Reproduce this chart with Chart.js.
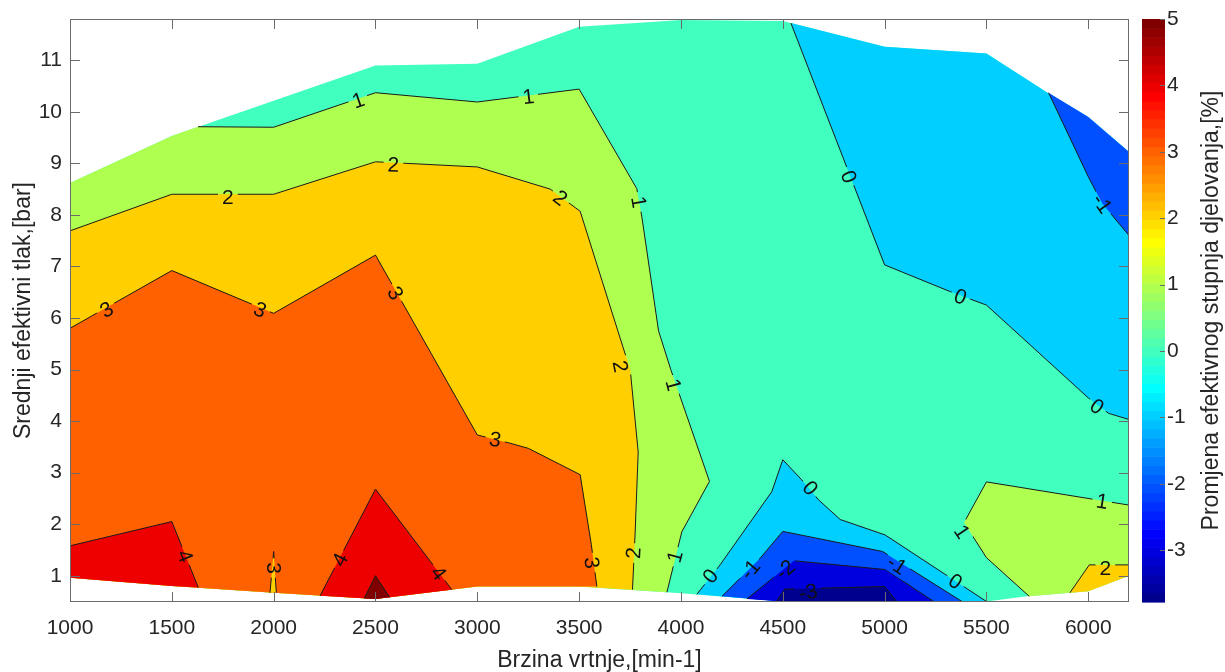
<!DOCTYPE html>
<html>
<head>
<meta charset="utf-8">
<script src="https://cdn.jsdelivr.net/npm/chart.js@4.4.1/dist/chart.umd.min.js"></script>
<style>
  html, body { margin: 0; padding: 0; background: #fff; }
  canvas { display: block; }
</style>
</head>
<body>
<canvas id="my-chart" width="1225" height="672"></canvas>
<script>
'use strict';

// Axis ranges
let speedMin = 1000;
let speedMax = 6200;
let loadMin = 0.49;
let loadMax = 11.8;
let colorMin = -3.78;
let colorMax = 5;

// Tick labels
let speedTicks = [1000, 1500, 2000, 2500, 3000, 3500, 4000, 4500, 5000, 5500, 6000];
let loadTicks = [1, 2, 3, 4, 5, 6, 7, 8, 9, 10, 11];
let colorTicks = [-3, -2, -1, 0, 1, 2, 3, 4, 5];

// Edge of the measured map [speed, bmep], top goes left to right
let topEdge = [[1000, 8.62], [1500, 9.53], [2500, 10.9], [3000, 10.93], [3500, 11.65], [4000, 11.78],
  [4500, 11.76], [5000, 11.26], [5500, 11.13], [5800, 10.37], [6000, 9.9], [6200, 9.22]];
// bottom goes right to left
let bottomEdge = [[6200, 1.0], [6000, 0.7], [5700, 0.6], [5500, 0.5], [4500, 0.5], [4000, 0.66],
  [3500, 0.79], [3000, 0.79], [2500, 0.55], [2000, 0.67], [1500, 0.8], [1000, 0.96]];

// Contour lines [speed, bmep]
let level1Left = [[1629, 9.71], [2000, 9.7], [2500, 10.37], [3000, 10.19], [3500, 10.44], [3783, 8.51],
  [3808, 7.96], [3890, 5.75], [3950, 5.0], [4140, 2.83], [4004, 1.85], [3931, 0.68]];
let level1Right = [[6200, 2.37], [5500, 2.82], [5390, 2.03], [5500, 1.35], [5710, 0.6]];
let level2Left = [[1000, 7.69], [1500, 8.4], [2000, 8.4], [2500, 9.03], [3000, 8.93], [3358, 8.5],
  [3505, 8.07], [3690, 5.75], [3751, 4.99], [3790, 3.4], [3775, 1.83], [3762, 0.73]];
let level2Right = [[5910, 0.67], [6005, 1.21], [6200, 1.21]];
let level3Main = [[1000, 5.8], [1500, 6.92], [2000, 6.09], [2500, 7.22], [3000, 3.73], [3161, 3.57],
  [3251, 3.47], [3505, 2.96], [3560, 1.6], [3587, 0.79]];
let level3Spike = [[1982, 0.67], [2000, 1.47], [2013, 0.67]];
let level4Left = [[1000, 1.58], [1500, 2.05], [1630, 0.77]];
let level4Mid = [[2228, 0.61], [2500, 2.68], [2875, 0.73]];
let level5 = [[2445, 0.56], [2500, 1.0], [2570, 0.58]];
let level0Top = [[4540, 11.72], [5000, 7.03], [5323, 6.51], [5500, 6.25], [6000, 4.45], [6100, 4.15], [6200, 4.03]];
let level0Bottom = [[4078, 0.64], [4192, 1.21], [4446, 2.63], [4500, 3.25], [4593, 2.86], [4676, 2.47],
  [4782, 2.09], [5003, 1.79], [5500, 0.5]];
let levelM1Top = [[5805, 10.37], [6000, 8.74], [6069, 8.22], [6200, 7.6]];
let levelM1Bottom = [[4201, 0.6], [4389, 1.34], [4500, 1.86], [4990, 1.47], [5380, 0.5]];
let levelM2 = [[4324, 0.55], [4555, 1.29], [5004, 1.12], [5241, 0.5]];
let levelM3 = [[4470, 0.51], [4510, 0.74], [5000, 0.79], [5060, 0.5]];

// Contour labels [text, speed, bmep, angle in degrees]
let contourLabels = [
  ['1', 2416, 10.22, -19], ['1', 3251, 10.29, -7], ['2', 1775, 8.35, 0], ['2', 2588, 8.97, 2],
  ['2', 3407, 8.33, 38], ['1', 3792, 8.25, 80], ['3', 1180, 6.16, -30], ['3', 1933, 6.16, 23],
  ['3', 2597, 6.48, 60], ['3', 3088, 3.64, 10], ['2', 3702, 5.06, 79], ['1', 3963, 4.7, 75],
  ['3', 3562, 1.25, 83], ['2', 3767, 1.44, -87], ['1', 3971, 1.37, -75], ['0', 4144, 0.99, -51],
  ['-1', 4340, 1.12, -50], ['-2', 4512, 1.12, -40], ['-3', 4625, 0.68, -10], ['0', 4635, 2.7, 50],
  ['-1', 5060, 1.21, 33], ['0', 5347, 0.89, 33], ['1', 5380, 1.85, 56], ['1', 6068, 2.44, 9],
  ['2', 6084, 1.15, 0], ['0', 6043, 4.28, 35], ['0', 4823, 8.74, 69], ['0', 5372, 6.41, 21],
  ['-1', 6068, 8.22, 55], ['4', 1565, 1.38, 68], ['3', 2000, 1.15, 90], ['4', 2326, 1.31, -63],
  ['4', 2809, 1.05, 52]
];

// Styles
let textColor = '#262626';
let axisColor = '#6b6b6b';
let fontFamily = "'Liberation Sans', Arial, Helvetica, sans-serif";
let tickFont = { family: fontFamily, size: 21 };
let titleFont = { family: fontFamily, size: 23, lineHeight: 1 };
let labelFont = '21px ' + fontFamily;

// MATLAB jet(64) colour for index 1..64
function jetColor(i) {
  let u = function (k) {
    if (k < 1 || k > 47) return 0;
    if (k <= 16) return k / 16;
    if (k <= 31) return 1;
    return (48 - k) / 16;
  };
  let r = Math.round(u(i - 24) * 255);
  let g = Math.round(u(i - 8) * 255);
  let b = Math.round(u(i + 8) * 255);
  return `rgb(${r},${g},${b})`;
}

function colorForValue(v) {
  let idx = Math.floor((v - colorMin) / (colorMax - colorMin) * 64) + 1;
  idx = Math.min(64, Math.max(1, idx));
  return jetColor(idx);
}

function bottomBetween(x0, x1) {
  return bottomEdge.filter(p => p[0] > x0 && p[0] < x1);
}

function topBetween(x0, x1) {
  return topEdge.filter(p => p[0] > x0 && p[0] < x1).reverse();
}

// Filled bands, painted in this order
let bands = [
  { value: 0, points: topEdge.concat(bottomEdge) },
  { value: 1, points: topEdge.slice(0, 2).concat(level1Left, bottomBetween(0, 3931)) },
  { value: 1, points: level1Right.concat(bottomBetween(5710, 7000).reverse()) },
  { value: 2, points: level2Left.concat(bottomBetween(0, 3762)) },
  { value: 2, points: level2Right.concat(bottomBetween(5910, 7000)) },
  { value: 3, points: level3Main.concat(bottomBetween(0, 3587)) },
  { value: 2, points: level3Spike },
  { value: 4, points: level4Left.concat(bottomBetween(0, 1630)) },
  { value: 4, points: level4Mid.concat(bottomBetween(2228, 2875)) },
  { value: 5, points: level5.concat(bottomBetween(2445, 2570)) },
  { value: -1, points: level0Top.concat(topBetween(4540, 7000)) },
  { value: -2, points: levelM1Top.concat(topBetween(5805, 7000)) },
  { value: -1, points: level0Bottom.concat(bottomBetween(4078, 5500)) },
  { value: -2, points: levelM1Bottom.concat(bottomBetween(4201, 5380)) },
  { value: -3, points: levelM2.concat(bottomBetween(4324, 5241)) },
  { value: colorMin, points: levelM3.concat(bottomBetween(4470, 5060)) }
];

let contourLines = [level1Left, level1Right, level2Left, level2Right, level3Main, level3Spike,
  level4Left, level4Mid, level5, level0Top, level0Bottom, levelM1Top, levelM1Bottom, levelM2, levelM3];

function toXY(points) {
  return points.map(p => ({ x: p[0], y: p[1] }));
}

let datasets = [];
for (let i = 0; i < bands.length; i++) {
  datasets.push({
    data: toXY(bands[i].points),
    showLine: true,
    fill: 'shape',
    backgroundColor: colorForValue(bands[i].value),
    borderColor: 'rgba(0,0,0,0)',
    borderWidth: 0,
    pointRadius: 0,
    order: 100 - i
  });
}
for (let i = 0; i < contourLines.length; i++) {
  datasets.push({
    data: toXY(contourLines[i]),
    showLine: true,
    fill: false,
    borderColor: '#1a1a1a',
    borderWidth: 1,
    pointRadius: 0,
    isContour: true,
    order: 1
  });
}

// Plugin: label gaps, labels, inner ticks, box and colour bar
let contourPlugin = {
  id: 'contourExtras',
  beforeDatasetDraw(chart, args) {
    if (!chart.data.datasets[args.index].isContour) return;
    let c = chart.ctx;
    let area = chart.chartArea;
    c.save();
    c.font = labelFont;
    c.beginPath();
    c.rect(area.left, area.top, area.right - area.left, area.bottom - area.top);
    for (let i = 0; i < contourLabels.length; i++) {
      let lab = contourLabels[i];
      let px = chart.scales.x.getPixelForValue(lab[1]);
      let py = chart.scales.y.getPixelForValue(lab[2]);
      let w = c.measureText(lab[0]).width / 2 + 4;
      let h = 10;
      let a = lab[3] * Math.PI / 180;
      let corners = [[-w, -h], [w, -h], [w, h], [-w, h]];
      for (let k = 0; k < 4; k++) {
        let cx = px + corners[k][0] * Math.cos(a) - corners[k][1] * Math.sin(a);
        let cy = py + corners[k][0] * Math.sin(a) + corners[k][1] * Math.cos(a);
        if (k === 0) c.moveTo(cx, cy); else c.lineTo(cx, cy);
      }
      c.closePath();
    }
    c.clip('evenodd');
  },
  afterDatasetDraw(chart, args) {
    if (chart.data.datasets[args.index].isContour) chart.ctx.restore();
  },
  afterDatasetsDraw(chart) {
    let c = chart.ctx;
    c.save();
    c.font = labelFont;
    c.fillStyle = '#111';
    c.textAlign = 'center';
    c.textBaseline = 'middle';
    for (let i = 0; i < contourLabels.length; i++) {
      let lab = contourLabels[i];
      c.save();
      c.translate(chart.scales.x.getPixelForValue(lab[1]), chart.scales.y.getPixelForValue(lab[2]));
      c.rotate(lab[3] * Math.PI / 180);
      c.fillText(lab[0], 0, 1);
      c.restore();
    }
    c.restore();
  },
  afterDraw(chart) {
    let c = chart.ctx;
    let a = chart.chartArea;
    let xs = chart.scales.x;
    let ys = chart.scales.y;
    let cb = chart.scales.cb;
    c.save();
    c.strokeStyle = axisColor;
    c.lineWidth = 1;
    c.beginPath();
    for (let i = 0; i < speedTicks.length; i++) {
      let px = Math.round(xs.getPixelForValue(speedTicks[i])) + 0.5;
      c.moveTo(px, a.bottom); c.lineTo(px, a.bottom - 10);
      c.moveTo(px, a.top); c.lineTo(px, a.top + 10);
    }
    for (let i = 0; i < loadTicks.length; i++) {
      let py = Math.round(ys.getPixelForValue(loadTicks[i])) + 0.5;
      c.moveTo(a.left, py); c.lineTo(a.left + 10, py);
      c.moveTo(a.right, py); c.lineTo(a.right - 10, py);
    }
    c.stroke();
    c.strokeRect(a.left + 0.5, a.top + 0.5, a.right - a.left - 1, a.bottom - a.top - 1);

    // colour bar
    let barLeft = a.right + 13;
    let barWidth = 23;
    let step = (colorMax - colorMin) / 64;
    for (let k = 0; k < 64; k++) {
      let yTop = cb.getPixelForValue(colorMin + (k + 1) * step);
      let yBot = cb.getPixelForValue(colorMin + k * step);
      c.fillStyle = jetColor(k + 1);
      c.fillRect(barLeft, yTop, barWidth, yBot - yTop + 0.6);
    }
    c.beginPath();
    for (let i = 0; i < colorTicks.length; i++) {
      let py = Math.round(cb.getPixelForValue(colorTicks[i])) + 0.5;
      c.moveTo(barLeft + barWidth, py); c.lineTo(barLeft + barWidth - 5, py);
    }
    c.stroke();

    c.fillStyle = textColor;
    c.font = titleFont.size + 'px ' + fontFamily;
    c.textAlign = 'center';
    c.textBaseline = 'middle';
    c.translate(1212, (a.top + a.bottom) / 2);
    c.rotate(-Math.PI / 2);
    c.fillText('Promjena efektivnog stupnja djelovanja,[%]', 0, 0);
    c.restore();
  }
};

let ctx = document.getElementById('my-chart');

let chartObject = {
  type: 'scatter',
  data: { datasets: datasets },
  options: {
    responsive: false,
    animation: false,
    devicePixelRatio: 1,
    events: [],
    layout: { padding: { top: 19, left: 0, right: 0, bottom: 0 } },
    plugins: {
      legend: { display: false },
      tooltip: { enabled: false }
    },
    scales: {
      x: {
        type: 'linear',
        min: speedMin,
        max: speedMax,
        afterBuildTicks: (s) => { s.ticks = speedTicks.map(v => ({ value: v })); },
        afterFit: (s) => { s.height = 70; },
        grid: { display: false, drawTicks: false },
        border: { display: false },
        ticks: { font: tickFont, color: textColor, padding: 14, maxRotation: 0, autoSkip: false, callback: (v) => String(v) },
        title: { display: true, text: 'Brzina vrtnje,[min-1]', font: titleFont, color: textColor, padding: { top: 0, bottom: 0 } }
      },
      y: {
        type: 'linear',
        position: 'left',
        min: loadMin,
        max: loadMax,
        afterBuildTicks: (s) => { s.ticks = loadTicks.map(v => ({ value: v })); },
        afterFit: (s) => { s.width = 70; },
        grid: { display: false, drawTicks: true, tickLength: 8 },
        border: { display: false },
        ticks: { font: tickFont, color: textColor, padding: 0, autoSkip: false, callback: (v) => String(v) },
        title: { display: true, text: 'Srednji efektivni tlak,[bar]', font: titleFont, color: textColor, padding: { top: 12, bottom: 0 } }
      },
      cb: {
        type: 'linear',
        position: 'right',
        min: colorMin,
        max: colorMax,
        afterBuildTicks: (s) => { s.ticks = colorTicks.map(v => ({ value: v })); },
        afterFit: (s) => { s.width = 96; },
        grid: { display: false, drawTicks: true, tickLength: 38 },
        border: { display: false },
        ticks: { font: tickFont, color: textColor, padding: 0, autoSkip: false, callback: (v) => String(v) }
      }
    }
  },
  plugins: [contourPlugin]
};

const contourChart = new Chart(ctx, chartObject);
</script>
</body>
</html>
